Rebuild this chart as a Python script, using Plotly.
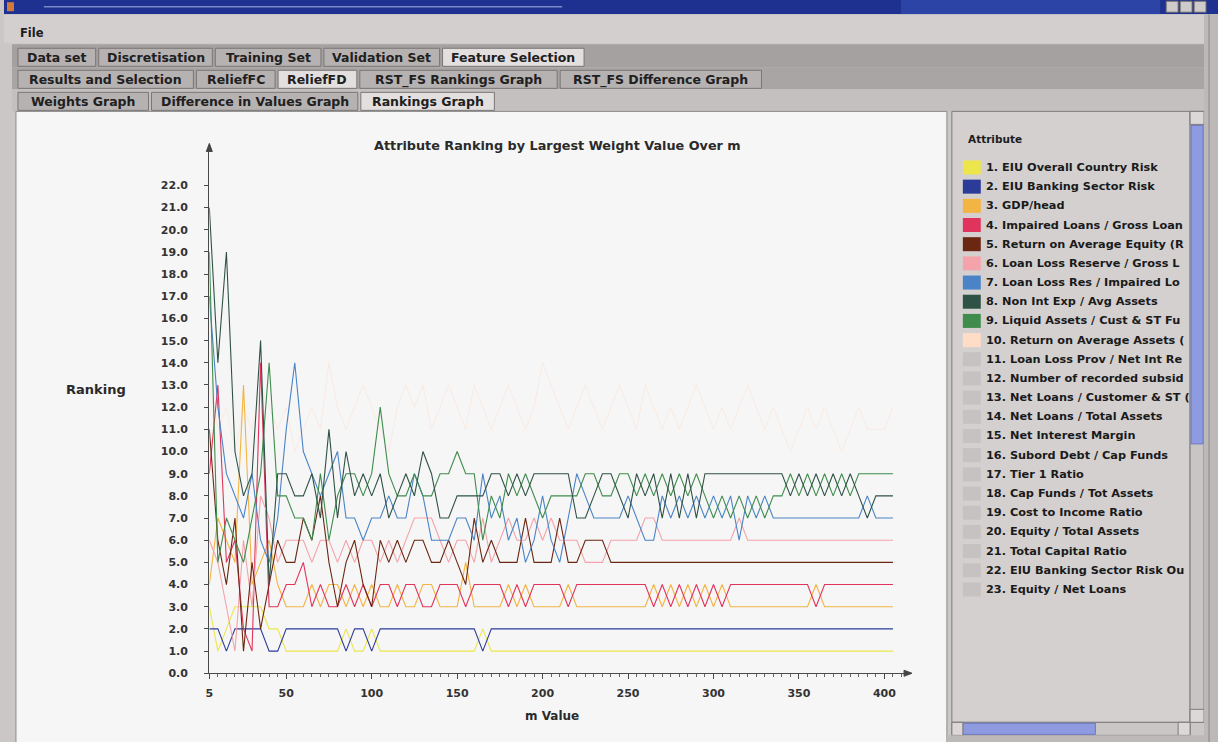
import plotly.graph_objects as go

W, H = 1218, 742

# m values at which the ReliefF rankings were recorded
m_values = list(range(5, 406, 5))

# Rank of each attribute (1 = best) for every m value
rank_eiu_country = [3, 1, 2, 3, 3, 3, 3, 2, 2, 1, 1, 1, 1, 1, 1, 1, 2, 1, 1, 2,
                    1, 1, 1, 1, 1, 1, 1, 1, 1, 1, 1, 1, 2, 1, 1, 1, 1, 1, 1, 1,
                    1, 1, 1, 1, 1, 1, 1, 1, 1, 1, 1, 1, 1, 1, 1, 1, 1, 1, 1, 1,
                    1, 1, 1, 1, 1, 1, 1, 1, 1, 1, 1, 1, 1, 1, 1, 1, 1, 1, 1, 1, 1]
rank_eiu_banking = [2, 2, 1, 2, 2, 2, 2, 1, 1, 2, 2, 2, 2, 2, 2, 2, 1, 2, 2, 1,
                    2, 2, 2, 2, 2, 2, 2, 2, 2, 2, 2, 2, 1, 2, 2, 2, 2, 2, 2, 2,
                    2, 2, 2, 2, 2, 2, 2, 2, 2, 2, 2, 2, 2, 2, 2, 2, 2, 2, 2, 2,
                    2, 2, 2, 2, 2, 2, 2, 2, 2, 2, 2, 2, 2, 2, 2, 2, 2, 2, 2, 2, 2]
rank_gdp_head = [4, 7, 6, 5, 13, 4, 5, 6, 4, 3, 3, 3, 4, 3, 4, 4, 3, 4, 3, 4,
                 3, 3, 4, 3, 3, 4, 4, 3, 3, 3, 5, 3, 3, 3, 3, 4, 3, 4, 3, 3,
                 3, 3, 4, 3, 3, 3, 3, 3, 3, 3, 3, 3, 4, 3, 4, 3, 4, 3, 4, 3,
                 4, 3, 3, 3, 3, 3, 3, 3, 3, 3, 3, 4, 3, 3, 3, 3, 3, 3, 3, 3, 3]
rank_impaired = [9, 13, 5, 6, 2, 1, 14, 3, 3, 4, 4, 5, 3, 4, 3, 3, 4, 3, 4, 3,
                 4, 4, 3, 4, 4, 3, 3, 4, 4, 4, 3, 4, 4, 4, 4, 3, 4, 3, 4, 4,
                 4, 4, 3, 4, 4, 4, 4, 4, 4, 4, 4, 4, 3, 4, 3, 4, 3, 4, 3, 4,
                 3, 4, 4, 4, 4, 4, 4, 4, 4, 4, 4, 3, 4, 4, 4, 4, 4, 4, 4, 4, 4]
rank_roae = [11, 6, 4, 7, 1, 5, 2, 4, 6, 5, 5, 7, 6, 8, 5, 3, 5, 6, 4, 3,
             6, 5, 6, 5, 6, 6, 5, 5, 6, 5, 4, 7, 5, 6, 5, 5, 5, 7, 5, 5,
             5, 7, 5, 5, 6, 6, 6, 5, 5, 5, 5, 5, 5, 5, 5, 5, 5, 5, 5, 5,
             5, 5, 5, 5, 5, 5, 5, 5, 5, 5, 5, 5, 5, 5, 5, 5, 5, 5, 5, 5, 5]
rank_llr_gross = [6, 5, 3, 1, 6, 3, 8, 7, 5, 6, 6, 6, 5, 6, 6, 5, 6, 5, 6, 6,
                  5, 6, 5, 6, 7, 7, 7, 6, 5, 6, 6, 5, 7, 5, 6, 7, 6, 6, 7, 6,
                  7, 6, 6, 6, 5, 5, 5, 6, 6, 6, 6, 7, 7, 6, 6, 6, 6, 6, 6, 6,
                  6, 6, 7, 6, 6, 6, 6, 6, 6, 6, 6, 6, 6, 6, 6, 6, 6, 6, 6, 6, 6]
rank_llr_impaired = [17, 12, 9, 8, 7, 9, 6, 5, 7, 11, 14, 10, 9, 8, 9, 10, 7, 7, 6, 7,
                     7, 8, 7, 7, 9, 8, 6, 6, 6, 7, 7, 6, 9, 7, 8, 6, 7, 5, 6, 8,
                     6, 5, 7, 9, 8, 7, 7, 7, 7, 8, 7, 6, 6, 8, 7, 8, 7, 8, 7, 8,
                     7, 8, 6, 8, 7, 8, 7, 7, 7, 7, 7, 7, 7, 7, 7, 7, 7, 8, 7, 7, 7]
rank_non_int_exp = [21, 14, 19, 10, 8, 9, 15, 4, 9, 9, 8, 8, 9, 7, 11, 7, 10, 8, 9, 8,
                    9, 7, 8, 9, 8, 10, 9, 7, 7, 8, 8, 8, 8, 9, 9, 8, 9, 8, 9, 9,
                    9, 9, 9, 7, 7, 8, 9, 9, 8, 7, 9, 8, 9, 7, 9, 7, 9, 7, 9, 9,
                    9, 9, 9, 9, 9, 9, 9, 9, 8, 9, 8, 9, 8, 9, 8, 9, 8, 7, 8, 8, 8]
rank_liquid = [19, 5, 7, 6, 5, 7, 9, 14, 8, 8, 7, 7, 6, 9, 6, 8, 9, 9, 8, 9,
               12, 9, 8, 8, 9, 8, 8, 9, 9, 10, 9, 9, 6, 8, 7, 9, 8, 9, 8, 7,
               8, 8, 8, 8, 9, 9, 8, 8, 9, 9, 8, 9, 8, 9, 8, 9, 8, 9, 8, 7,
               8, 7, 8, 7, 8, 7, 8, 8, 9, 8, 9, 8, 9, 8, 9, 8, 9, 9, 9, 9, 9]
rank_roaa = [13, 11, 12, 10, 12, 11, 13, 12, 11, 12, 10, 11, 12, 11, 14, 12, 11, 12, 13, 12,
             11, 10, 12, 13, 12, 13, 11, 12, 13, 12, 11, 13, 12, 11, 12, 13, 12, 11, 12, 14,
             13, 12, 11, 12, 13, 12, 11, 12, 13, 12, 11, 13, 12, 11, 12, 11, 12, 13, 12, 11,
             12, 11, 12, 13, 12, 11, 12, 11, 10, 11, 12, 11, 12, 11, 10, 11, 12, 11, 11, 11, 12]

# Legend entries as they appear in the (clipped) attribute list
attribute_labels = [
    "1. EIU Overall Country Risk",
    "2. EIU Banking Sector Risk",
    "3. GDP/head",
    "4. Impaired Loans / Gross Loan",
    "5. Return on Average Equity (R",
    "6. Loan Loss Reserve / Gross L",
    "7. Loan Loss Res / Impaired Lo",
    "8. Non Int Exp / Avg Assets",
    "9. Liquid Assets / Cust & ST Fu",
    "10. Return on Average Assets (",
    "11. Loan Loss Prov / Net Int Re",
    "12. Number of recorded subsid",
    "13. Net Loans / Customer & ST (",
    "14. Net Loans / Total Assets",
    "15. Net Interest Margin",
    "16. Subord Debt / Cap Funds",
    "17. Tier 1 Ratio",
    "18. Cap Funds / Tot Assets",
    "19. Cost to Income Ratio",
    "20. Equity / Total Assets",
    "21. Total Capital Ratio",
    "22. EIU Banking Sector Risk Ou",
    "23. Equity / Net Loans",
]
attribute_colors = [
    "#ECE64C", "#2B3C98", "#F2B443", "#E0345C", "#6B2712",
    "#F4A3AA", "#4A84C6", "#2F5246", "#3F8C4C", "#FFDCC6",
] + ["#C6C2C2"] * 13

series = [
    (9, rank_roaa),
    (0, rank_eiu_country),
    (1, rank_eiu_banking),
    (2, rank_gdp_head),
    (3, rank_impaired),
    (5, rank_llr_gross),
    (4, rank_roae),
    (6, rank_llr_impaired),
    (8, rank_liquid),
    (7, rank_non_int_exp),
]
for _, vals in series:
    assert len(vals) == len(m_values)


def px(x):
    return x / W


def py(y):
    # screen row (from the top of the window) -> paper fraction;
    # the page renders slightly compressed vertically, so rows are stretched back
    return 1 - ((y - 0.8) / 0.989) / H


FONT = "DejaVu Sans"
shapes = []
annotations = []


def rect(x0, y0, x1, y1, fill, line=None, lw=1, layer="below"):
    shapes.append(dict(
        type="rect", xref="paper", yref="paper",
        x0=px(x0), x1=px(x1), y0=py(y1), y1=py(y0),
        fillcolor=fill, layer=layer,
        line=dict(color=line or fill, width=lw if line else 0),
    ))


def hline(x0, x1, y, color, w=1, layer="below"):
    shapes.append(dict(type="line", xref="paper", yref="paper",
                       x0=px(x0), x1=px(x1), y0=py(y), y1=py(y),
                       line=dict(color=color, width=w), layer=layer))


def vline(x, y0, y1, color, w=1, layer="below"):
    shapes.append(dict(type="line", xref="paper", yref="paper",
                       x0=px(x), x1=px(x), y0=py(y0), y1=py(y1),
                       line=dict(color=color, width=w), layer=layer))


def text(x, y, s, size=11, color="#1c1c1c", bold=True, anchor="left"):
    annotations.append(dict(
        xref="paper", yref="paper", x=px(x), y=py(y), text=s,
        showarrow=False, xanchor=anchor, yanchor="middle",
        font=dict(family=FONT, size=size, color=color,
                  weight="bold" if bold else "normal"),
    ))


# ---- window chrome -------------------------------------------------------
rect(0, 0, W, 15, "#1f3190")
rect(900, 0, 1160, 15, "#2c44a6")
hline(40, 560, 7.5, "#7888c8", 1.5)
rect(3, 3, 10, 12, "#d27a3a")
for bx in (1166, 1180, 1194):
    rect(bx, 2, bx + 12, 13, "#cfcbcb", "#6a6a6a")
rect(0, 15, W, 44, "#d3cfcf")
text(14, 34, "File", size=11.5)

# tab bands
rect(8, 45, 1210, 68, "#a5a1a1")
rect(8, 68, 1210, 90, "#a9a5a5")
rect(8, 90, 1210, 112, "#c4c0c0")

tab_rows = [
    (49, 67, [("Data set", 14, 92, False), ("Discretisation", 95, 209, False),
              ("Training Set", 212, 318, False), ("Validation Set", 321, 437, False),
              ("Feature Selection", 440, 582, True)]),
    (71, 89, [("Results and Selection", 14, 190, False), ("ReliefFC", 193, 272, False),
              ("ReliefFD", 275, 354, True), ("RST_FS Rankings Graph", 357, 555, False),
              ("RST_FS Difference Graph", 558, 760, False)]),
    (93, 111, [("Weights Graph", 14, 145, False),
               ("Difference in Values Graph", 148, 355, False),
               ("Rankings Graph", 358, 492, True)]),
]
for y0, y1, tabs in tab_rows:
    for label, x0, x1, sel in tabs:
        rect(x0, y0, x1, y1, "#e3dfdf" if sel else "#b6b2b2", "#7a7676")
        text((x0 + x1) / 2, (y0 + y1) / 2 + 0.5, label, size=12.5,
             color="#202020", anchor="center")

# chart panel
rect(12, 112, 946, 750, "#f6f6f6", "#8a8a8a")
# attribute list panel with scroll bars
rect(951, 112, 1190, 722, "#d4d0d0", "#7f7b7b")
rect(1190, 112, 1204, 722, "#c9c5c5", "#7f7b7b")
rect(1191, 126, 1203, 444, "#8e9be0", "#6d78c0")
rect(1190, 112, 1204, 125, "#dcd8d8", "#7f7b7b")
rect(1190, 709, 1204, 722, "#dcd8d8", "#7f7b7b")
rect(951, 722, 1190, 735, "#cac6c6", "#7f7b7b")
rect(962, 723, 1095, 734, "#8e9be0", "#6d78c0")
rect(951, 722, 962, 735, "#dcd8d8", "#7f7b7b")
rect(1178, 722, 1190, 735, "#dcd8d8", "#7f7b7b")
rect(1204, 15, W, 760, "#bdb9b9")
vline(1209, 15, 760, "#8a8686")
rect(946, 735, 1204, 760, "#bdb9b9")

text(965, 140, "Attribute", size=10.5)
for k, (label, col) in enumerate(zip(attribute_labels, attribute_colors)):
    yc = 168 + 19.15 * k
    rect(962, yc - 7, 980, yc + 7, col)
    text(983, yc, label, size=11.3, color="#1a1a1a")

# axis arrowheads
shapes.append(dict(type="path", xref="paper", yref="paper",
                   path=f"M {px(203)} {py(152)} L {px(206)} {py(144)} L {px(209)} {py(152)} Z",
                   fillcolor="#444", line=dict(color="#444", width=1), layer="above"))
shapes.append(dict(type="path", xref="paper", yref="paper",
                   path=f"M {px(903)} {py(670)} L {px(911)} {py(673)} L {px(903)} {py(676)} Z",
                   fillcolor="#444", line=dict(color="#444", width=1), layer="above"))

# chart titles
text(555, 146, "Attribute Ranking by Largest Weight Value Over m", size=12.8,
     color="#2a2a2a", anchor="center")
text(92, 390, "Ranking", size=13, color="#2a2a2a", anchor="center")
text(550, 716, "m Value", size=12, color="#2a2a2a", anchor="center")

fig = go.Figure()
for idx, vals in series:
    fig.add_trace(go.Scatter(
        x=m_values, y=vals, mode="lines", name=attribute_labels[idx],
        line=dict(color=attribute_colors[idx], width=1.1 if idx != 9 else 1),
        opacity=0.4 if idx == 9 else 1, showlegend=False,
        hoverinfo="skip",
    ))

x_ticks = [5, 50, 100, 150, 200, 250, 300, 350, 400]
y_ticks = list(range(0, 23))

fig.update_layout(
    width=W, height=H, margin=dict(l=0, r=0, t=0, b=0),
    paper_bgcolor="#cbc7c7", plot_bgcolor="rgba(0,0,0,0)",
    shapes=shapes, annotations=annotations, showlegend=False,
    xaxis=dict(
        domain=[px(206), px(905)], range=[5, 5 + (905 - 206) / 1.7147],
        showline=True, linecolor="#4a4a4a", linewidth=1.3,
        ticks="outside", ticklen=5, tickcolor="#4a4a4a",
        tickvals=x_ticks, ticktext=[str(v) for v in x_ticks],
        tickfont=dict(family=FONT, size=11, color="#333", weight="bold"),
        ticklabelstandoff=4,
        minor=dict(tick0=5, dtick=5, ticks="outside", ticklen=3, tickcolor="#666"),
        showgrid=False, zeroline=False, fixedrange=True,
    ),
    yaxis=dict(
        domain=[py(673), py(148)], range=[0, (673 - 148) / 22.14],
        showline=True, linecolor="#4a4a4a", linewidth=1.3,
        ticks="outside", ticklen=4, tickcolor="#4a4a4a",
        tickvals=y_ticks, tickformat=".1f",
        tickfont=dict(family=FONT, size=11, color="#333", weight="bold"),
        ticklabelstandoff=14,
        showgrid=False, zeroline=False, fixedrange=True,
    ),
)

fig.write_html("out.html")
